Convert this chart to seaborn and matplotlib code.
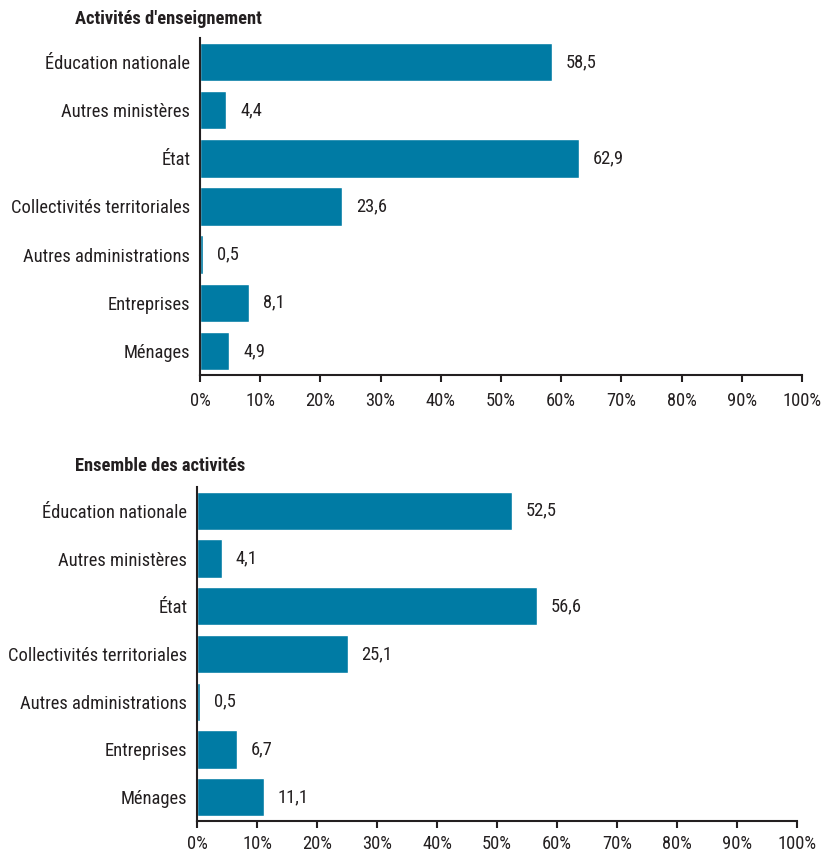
import matplotlib
matplotlib.use("Agg")
import matplotlib.pyplot as plt
import seaborn as sns
import pandas as pd

categories = ["Éducation nationale", "Autres ministères", "État",
              "Collectivités territoriales", "Autres administrations",
              "Entreprises", "Ménages"]
enseignement = [58.5, 4.4, 62.9, 23.6, 0.5, 8.1, 4.9]
ensemble = [52.5, 4.1, 56.6, 25.1, 0.5, 6.7, 11.1]
titles = ["Activités d'enseignement", "Ensemble des activités"]
xticks = [0, 10, 20, 30, 40, 50, 60, 70, 80, 90, 100]

sns.set_theme(style="white")
plt.rcParams['font.family'] = ['Roboto Condensed', 'DejaVu Sans']

color = "#007BA4"
txt = "#231F20"
fs = 13.3
fig = plt.figure(figsize=(8.23, 8.52), dpi=100)
axes_pos = [[0.243, 0.5599, 0.9745 - 0.243, 0.9554 - 0.5599],
            [0.2394, 0.0364, 0.9684 - 0.2394, 0.4284 - 0.0364]]
title_y = [0.9775, 0.4535]
pads = [7, 5]

for pos, vals, title, ty, pd_ in zip(axes_pos, [enseignement, ensemble], titles, title_y, pads):
    ax = fig.add_axes(pos)
    df = pd.DataFrame({"cat": categories, "val": vals})
    sns.barplot(data=df, x="val", y="cat", orient="h", color=color,
                saturation=1, width=0.8, ax=ax)
    ax.set_xlim(0, 100)
    ax.set_ylim(6.5, -0.5)
    ax.set_xticks(xticks)
    ax.set_xticklabels([f"{t}%" for t in xticks], fontsize=fs, color=txt)
    ax.tick_params(axis="y", labelsize=fs, labelcolor=txt, length=0, pad=7)
    ax.tick_params(axis="x", length=5, width=1.5, color=txt, direction="out",
                   bottom=True, pad=pd_)
    ax.set_xlabel("")
    ax.set_ylabel("")
    for s in ["top", "right"]:
        ax.spines[s].set_visible(False)
    for s in ["left", "bottom"]:
        ax.spines[s].set_color(txt)
        ax.spines[s].set_linewidth(1.5)
    for i, v in enumerate(vals):
        ax.annotate(f"{v:.1f}".replace(".", ","), xy=(v, i), xytext=(10, 0),
                    textcoords="offset points", va="center", ha="left",
                    fontsize=fs, color=txt)
    fig.text(0.091, ty, title, fontsize=13.3, fontweight="bold", color=txt,
             va="center", ha="left")

fig.savefig("out.png", dpi=100)
